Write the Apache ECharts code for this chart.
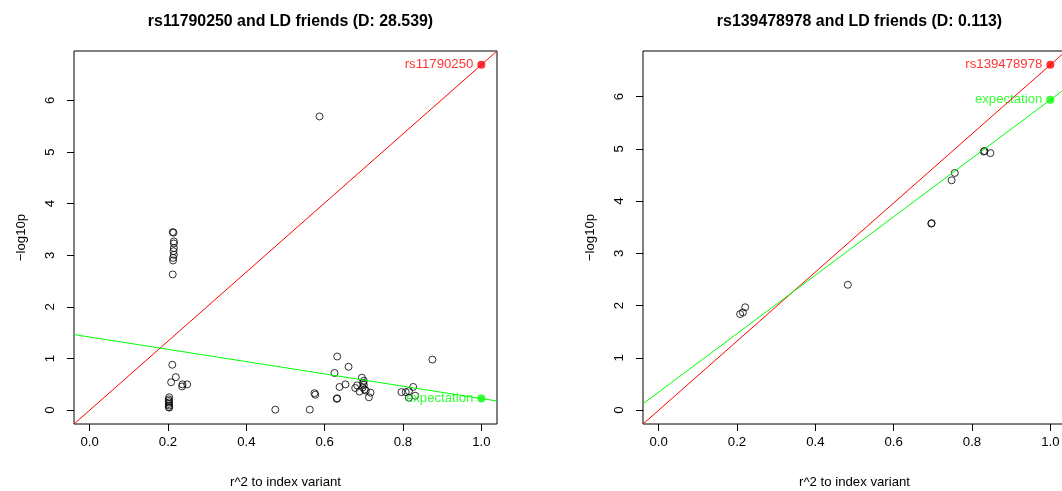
<!DOCTYPE html>
<html>
<head>
<meta charset="utf-8">
<script src="https://cdn.jsdelivr.net/npm/echarts@6/dist/echarts.min.js"></script>
<style>
    html, body { margin: 0; padding: 0; background: #fff; }
    #chart { width: 1062px; height: 491px; }
</style>
</head>
<body>
<div id="chart"></div>
<script>
'use strict'

// left panel: rs11790250
const leftX = [0.212, 0.214, 0.215, 0.215, 0.215, 0.214, 0.215, 0.213, 0.213, 0.212,
    0.211, 0.220, 0.208, 0.236, 0.237, 0.249, 0.203, 0.202, 0.202, 0.203, 0.202, 0.203, 0.202, 0.203,
    0.474, 0.562, 0.576, 0.574, 0.587, 0.632, 0.661, 0.625, 0.632, 0.631,
    0.653, 0.638, 0.683, 0.678, 0.695, 0.700, 0.698, 0.700, 0.697, 0.702, 0.689, 0.717, 0.713, 0.705,
    0.875, 0.796, 0.807, 0.815, 0.826, 0.831, 0.815]
const leftY = [3.45, 3.44, 3.27, 3.23, 3.14, 3.08, 3.01, 2.95, 2.90, 2.63,
    0.88, 0.64, 0.54, 0.46, 0.50, 0.50, 0.25, 0.21, 0.18, 0.15, 0.12, 0.09, 0.06, 0.05,
    0.01, 0.01, 0.30, 0.33, 5.69, 1.04, 0.84, 0.72, 0.23, 0.22,
    0.50, 0.45, 0.48, 0.43, 0.63, 0.57, 0.53, 0.49, 0.44, 0.40, 0.36, 0.34, 0.25, 0.38,
    0.98, 0.35, 0.35, 0.37, 0.45, 0.28, 0.24]
const leftIndex = ['rs11790250', 6.69]
const leftExpect = 0.226
const leftFit = [1.417, -1.191]   // intercept, slope of the expectation line

// right panel: rs139478978
const rightX = [0.830, 0.832, 0.847, 0.756, 0.748, 0.696, 0.697, 0.483, 0.208, 0.215, 0.221]
const rightY = [4.95, 4.96, 4.92, 4.54, 4.40, 3.57, 3.58, 2.40, 1.84, 1.87, 1.97]
const rightIndex = ['rs139478978', 6.61]
const rightExpect = 5.94
const rightFit = [0.346, 5.594]

const titles = ['rs11790250 and LD friends (D: 28.539)', 'rs139478978 and LD friends (D: 0.113)']
const xTicks = [0, 0.2, 0.4, 0.6, 0.8, 1.0]
const yTicks = [0, 1, 2, 3, 4, 5, 6]

const font = 'Liberation Sans, Arial, sans-serif'
const xLim = [-0.04, 1.04]

function zip(xs, ys) {
    return xs.map((v, k) => [v, ys[k]])
}

function abline(a, b) {
    return xLim.map(x => [x, a + b * x])
}

function makeX(k) {
    return {
        type: 'value',
        gridIndex: k,
        min: xLim[0],
        max: xLim[1],
        name: 'r^2 to index variant',
        nameLocation: 'middle',
        nameGap: 52,
        nameTextStyle: { color: '#000', fontSize: 13.2, fontFamily: font },
        axisLine: { show: false, onZero: false },
        splitLine: { show: false },
        axisTick: { show: true, length: 7, customValues: xTicks, lineStyle: { color: '#000' } },
        axisLabel: {
            customValues: xTicks,
            margin: 12,
            color: '#000',
            fontSize: 13.2,
            fontFamily: font,
            formatter: v => v.toFixed(1)
        }
    }
}

function makeY(k, top) {
    return {
        type: 'value',
        gridIndex: k,
        min: -0.04 * top,
        max: 1.04 * top,
        name: '\u2212log10p',
        nameLocation: 'middle',
        nameRotate: 90,
        nameGap: 46,
        nameTextStyle: { color: '#000', fontSize: 13.2, fontFamily: font },
        axisLine: { show: false, onZero: false },
        splitLine: { show: false },
        axisTick: { show: true, length: 7, customValues: yTicks, lineStyle: { color: '#000' } },
        axisLabel: {
            customValues: yTicks,
            rotate: 90,
            margin: 17,
            color: '#000',
            fontSize: 13.2,
            fontFamily: font
        }
    }
}

function panelSeries(k, xs, ys, index, expect, fit) {
    return [
        {
            type: 'scatter',
            xAxisIndex: k,
            yAxisIndex: k,
            symbol: 'circle',
            symbolSize: 7,
            itemStyle: { color: 'rgba(0,0,0,0)', borderColor: '#000', borderWidth: 1 },
            data: zip(xs, ys),
            silent: true
        },
        {
            type: 'line',
            xAxisIndex: k,
            yAxisIndex: k,
            symbol: 'none',
            lineStyle: { color: '#ff0000', width: 1 },
            data: abline(0, index[1]),
            silent: true
        },
        {
            type: 'line',
            xAxisIndex: k,
            yAxisIndex: k,
            symbol: 'none',
            lineStyle: { color: '#00ff00', width: 1 },
            data: abline(fit[0], fit[1]),
            silent: true
        },
        {
            type: 'scatter',
            xAxisIndex: k,
            yAxisIndex: k,
            symbolSize: 8,
            itemStyle: { color: '#ff0000' },
            label: { show: true, position: 'left', distance: 4, color: '#ff0000', fontSize: 13.2, fontFamily: font, formatter: index[0] },
            data: [[1, index[1]]],
            silent: true
        },
        {
            type: 'scatter',
            xAxisIndex: k,
            yAxisIndex: k,
            symbolSize: 8,
            itemStyle: { color: '#00ff00' },
            label: { show: true, position: 'left', distance: 4, color: '#00ff00', fontSize: 13.2, fontFamily: font, formatter: 'expectation' },
            data: [[1, expect]],
            silent: true
        }
    ]
}

const gridW = 423
const grids = [
    { left: 74, top: 51, width: gridW, height: 373 },
    { left: 643, top: 51, width: gridW, height: 373 }
]

const option = {
    animation: false,
    backgroundColor: '#fff',
    title: titles.map((t, k) => ({
        text: t,
        left: grids[k].left + gridW / 2,
        top: 9,
        textAlign: 'center',
        textStyle: { color: '#000', fontSize: 15.9, fontWeight: 'bold', fontFamily: font }
    })),
    grid: grids.map(g => Object.assign({
        show: true,
        borderColor: '#000',
        borderWidth: 1,
        containLabel: false,
        outerBoundsMode: 'none'
    }, g)),
    xAxis: [makeX(0), makeX(1)],
    yAxis: [makeY(0, leftIndex[1]), makeY(1, rightIndex[1])],
    series: [].concat(
        panelSeries(0, leftX, leftY, leftIndex, leftExpect, leftFit),
        panelSeries(1, rightX, rightY, rightIndex, rightExpect, rightFit)
    )
}

const myChart = echarts.init(document.getElementById('chart'))
myChart.setOption(option)
</script>
</body>
</html>
